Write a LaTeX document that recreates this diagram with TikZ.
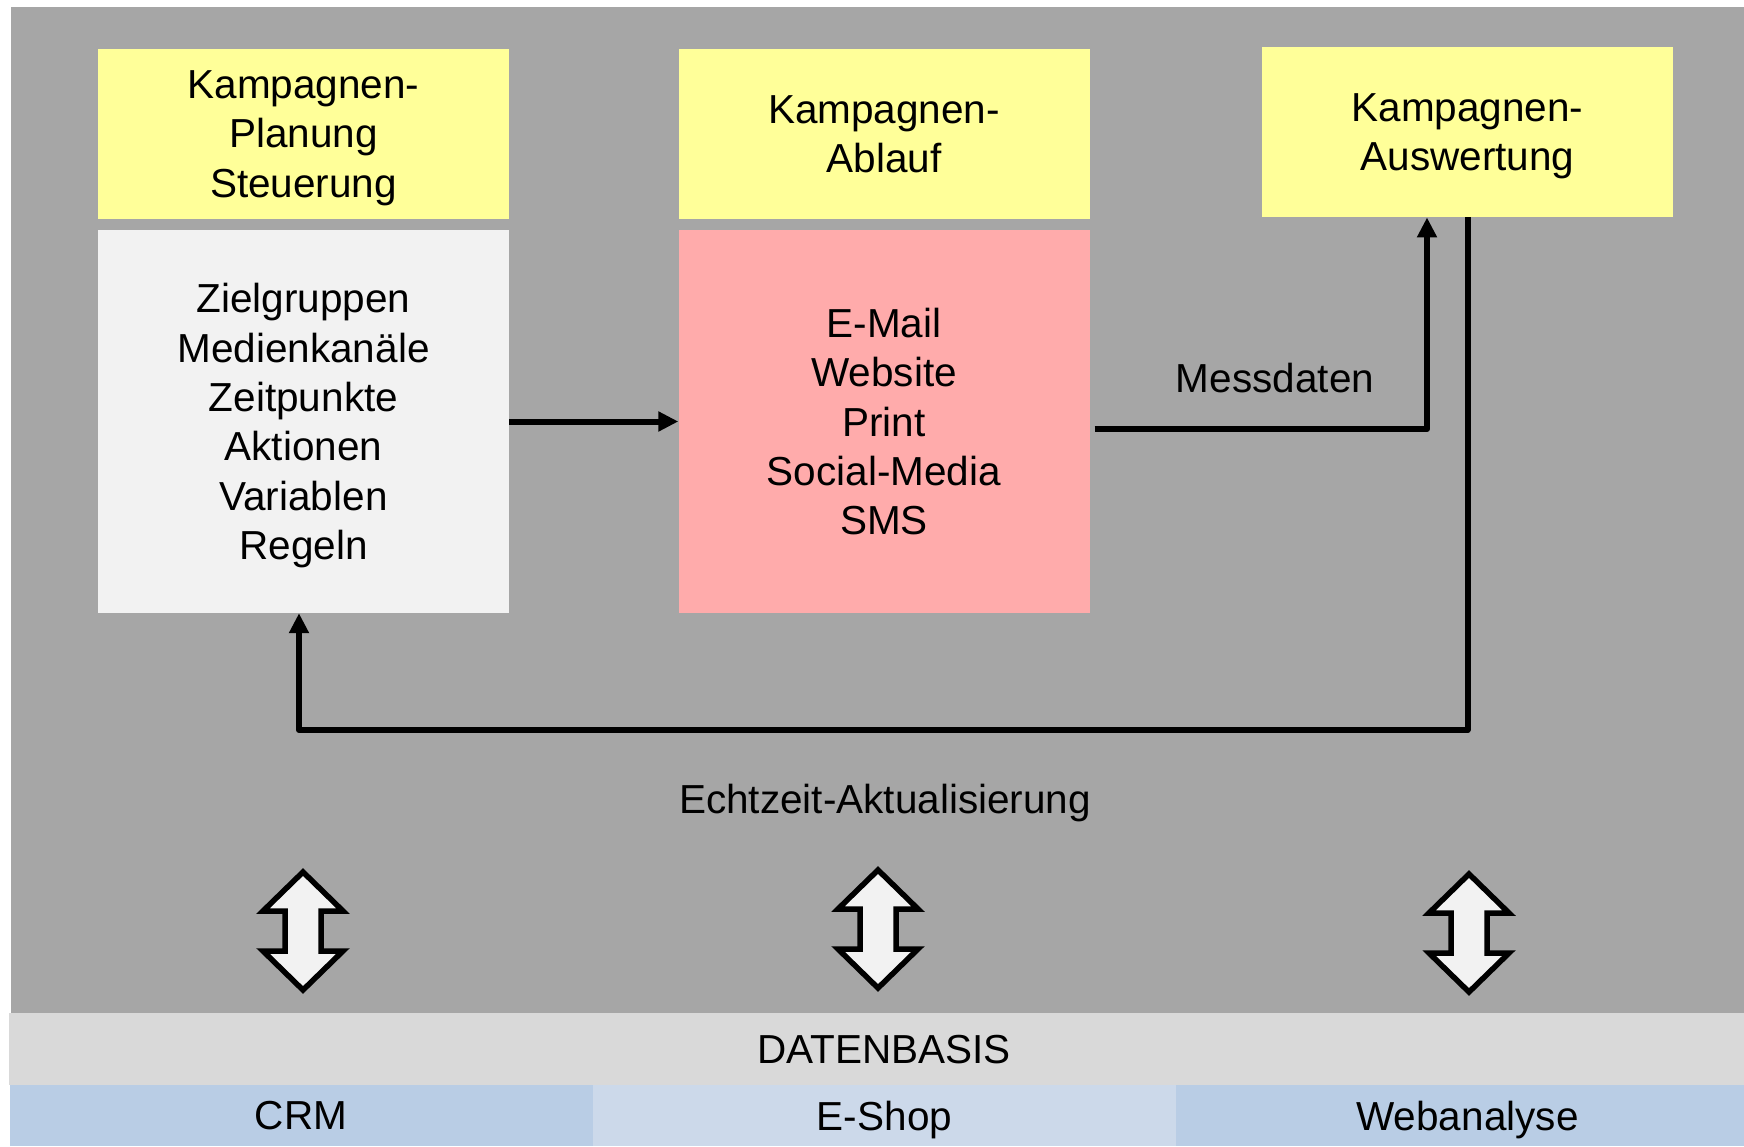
\documentclass[tikz,border=0pt]{standalone}
\usepackage{fontspec}
\setmainfont{Liberation Sans}
\usetikzlibrary{arrows.meta}

\definecolor{grau}{HTML}{A6A6A6}
\definecolor{gelb}{HTML}{FFFF99}
\definecolor{hell}{HTML}{F2F2F2}
\definecolor{rosa}{HTML}{FFABAB}
\definecolor{band}{HTML}{D9D9D9}
\definecolor{blau}{HTML}{B9CDE5}
\definecolor{hellblau}{HTML}{CCD9EA}

\begin{document}
\begin{tikzpicture}[x = 1pt, y = -1pt,
	every node/.style = {font = \fontsize{40.5}{49.4}\selectfont, align = center, inner sep = 0pt, text depth = 0pt},
	phase/.style = {fill = gelb, minimum width = 411pt, minimum height = 170.5pt},
	inhalt/.style = {minimum width = 411pt, minimum height = 383pt},
	quelle/.style = {minimum width = 583pt, minimum height = 61pt},
	pfeil/.style = {line width = 6pt, line join = round, -{Triangle[length = 20pt, width = 19pt]}},
	sync/.style = {line width = 5.5pt, fill = hell}]
	 \useasboundingbox (0, 0) rectangle (1744, 1146);
	 \clip (0, 0) rectangle (1744, 1146);
	 
	 \fill[grau] (11, 7) rectangle (1744, 1013);
	 \fill[band] (9, 1013) rectangle (1744, 1085);
	 
	 \node[phase] (planung) at (303.5, 134) {Kampagnen-\\Planung\\Steuerung};
	 \node[phase] (ablauf) at (884, 134) {Kampagnen-\\Ablauf};
	 \node[phase] (auswertung) at (1467.5, 132) {Kampagnen-\\Auswertung};
	 
	 \node[inhalt, fill = hell] (ziele) at (303.5, 421.5) {Zielgruppen\\Medienkanäle\\Zeitpunkte\\Aktionen\\Variablen\\Regeln};
	 \node[inhalt, fill = rosa] (kanaele) at (884, 421.5) {E-Mail\\Website\\Print\\Social-Media\\SMS};
	 
	 \node (messdaten) at (1275, 378) {Messdaten};
	 \node (echtzeit) at (885, 799) {Echtzeit-Aktualisierung};
	 
	 \draw[pfeil] (ziele.east) -- (kanaele.west);
	 \draw[pfeil] ([xshift = 5pt, yshift = -7.5pt]kanaele.east) -| ([xshift = -40.5pt]auswertung.south);
	 
	 \coordinate (knick) at (1467.5, 730);
	 \draw[pfeil] (auswertung.south) -- (knick) -| ([xshift = -4.5pt]ziele.south);
	 
	 \foreach \x/\y in {303/931, 878/929, 1469/933}
	 \draw[sync] (\x, \y) ++(0, -59) -- ++(40, 39) -- ++(-22, 0) -- ++(0, 40) -- ++(22, 0) -- ++(-40, 39) -- ++(-40, -39) -- ++(22, 0) -- ++(0, -40) -- ++(-22, 0) -- cycle;
	 
	 \node (datenbasis) at (884, 1049) {DATENBASIS};
	 
	 \node[quelle, fill = blau] (crm) at (301, 1115.5) {CRM};
	 \node[quelle, fill = hellblau] (shop) at (884.5, 1115.5) {E-Shop};
	 \node[quelle, fill = blau] (web) at (1467.5, 1115.5) {Webanalyse};
	 \end{tikzpicture}
\end{document}
